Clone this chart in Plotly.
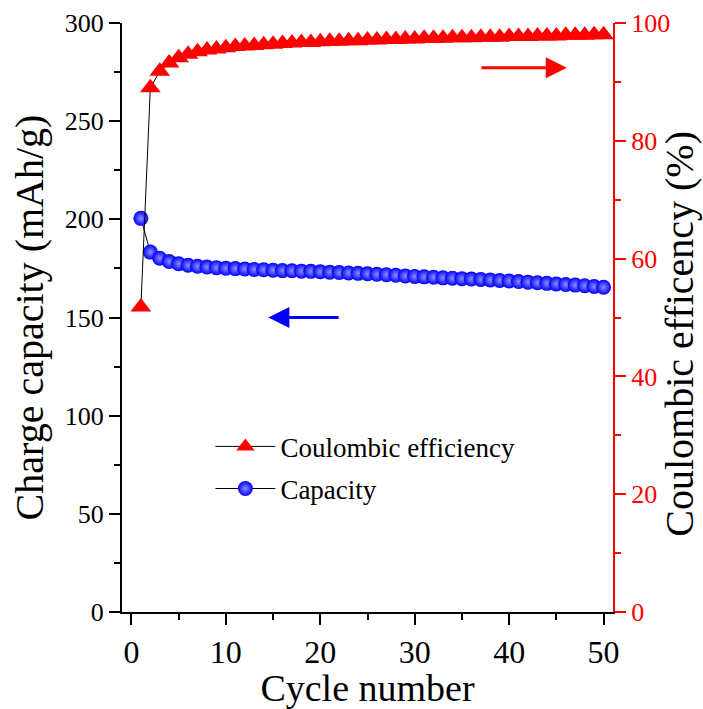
import plotly.graph_objects as go

# Cycle index
cycles = list(range(1, 51))

# Charge capacity per cycle (mAh/g)
capacity = [
    200.5, 183.3, 180.2, 178.5, 177.4, 176.6, 176.1, 175.7, 175.4, 175.1,
    174.9, 174.7, 174.5, 174.3, 174.1, 173.9, 173.8, 173.6, 173.5, 173.3,
    173.1, 172.9, 172.7, 172.5, 172.3, 172.0, 171.8, 171.5, 171.2, 170.9,
    170.7, 170.5, 170.2, 170.0, 169.8, 169.6, 169.4, 169.1, 168.9, 168.6,
    168.3, 168.0, 167.7, 167.4, 167.1, 166.8, 166.5, 166.2, 165.8, 165.4,
]

# Coulombic efficiency per cycle (%)
efficiency = [
    51.8, 89.0, 91.8, 93.2, 94.1, 94.7, 95.1, 95.4, 95.6, 95.8,
    96.0, 96.1, 96.2, 96.3, 96.4, 96.5, 96.6, 96.7, 96.7, 96.8,
    96.9, 96.9, 97.0, 97.0, 97.1, 97.1, 97.2, 97.2, 97.3, 97.3,
    97.4, 97.4, 97.4, 97.5, 97.5, 97.5, 97.6, 97.6, 97.6, 97.7,
    97.7, 97.7, 97.8, 97.8, 97.8, 97.9, 97.9, 97.9, 98.0, 98.0,
]

FONT = "Liberation Serif"
RED = "#ff0000"
BLUE = "#0000ff"

fig = go.Figure()

fig.add_trace(go.Scatter(
    x=cycles, y=capacity, name="Capacity", mode="lines+markers",
    yaxis="y", legendrank=2, legendgroup="cap",
    line=dict(color="black", width=1),
    marker=dict(symbol="circle", size=15, color=BLUE,
                gradient=dict(type="radial", color="#8c8cff"),
                line=dict(width=0)),
))

fig.add_trace(go.Scatter(
    x=cycles, y=efficiency, name="Coulombic efficiency", mode="lines+markers",
    yaxis="y2", legendrank=1, legendgroup="ce",
    line=dict(color="black", width=1),
    marker=dict(symbol="triangle-up", size=18, color=RED, line=dict(width=0)),
))

tick_common = dict(ticks="outside", ticklen=11, tickwidth=2, showline=True,
                   linewidth=2, showgrid=False, zeroline=False, automargin=False)

fig.update_layout(
    width=703, height=709,
    margin=dict(l=122, r=90, t=23, b=97),
    plot_bgcolor="white", paper_bgcolor="white",
    font=dict(family=FONT, color="black"),
    showlegend=True,
    legend=dict(x=0.18, y=0.322, xanchor="left", yanchor="top",
                font=dict(size=27, family=FONT), bgcolor="rgba(0,0,0,0)",
                traceorder="grouped", tracegroupgap=4, itemwidth=60),
    xaxis=dict(
        range=[-1, 51], dtick=10, tick0=0, linecolor="black", tickcolor="black",
        tickfont=dict(size=32, family=FONT),
        minor=dict(ticks="outside", ticklen=6, tickwidth=2, dtick=5, tickcolor="black"),
        title=dict(text="Cycle number", font=dict(size=38, family=FONT), standoff=7),
        **tick_common,
    ),
    xaxis2=dict(
        range=[-1, 51], overlaying="x", side="top", anchor="y",
        ticks="outside", ticklen=4, tickwidth=1, dtick=5, tick0=0,
        showticklabels=False, showline=True, linewidth=2, linecolor="black",
        showgrid=False, zeroline=False, automargin=False,
    ),
    yaxis=dict(
        range=[0, 300], dtick=50, tick0=0, linecolor="black", tickcolor="black",
        tickfont=dict(size=26, family=FONT),
        minor=dict(ticks="outside", ticklen=6, tickwidth=2, dtick=25, tickcolor="black"),
        title=dict(text="Charge capacity (mAh/g)", font=dict(size=40, family=FONT), standoff=9),
        **tick_common,
    ),
    yaxis2=dict(
        range=[0, 100], dtick=20, tick0=0, overlaying="y", side="right", anchor="x",
        linecolor=RED, tickcolor=RED,
        tickfont=dict(size=26, family=FONT, color=RED),
        minor=dict(ticks="outside", ticklen=6, tickwidth=2, dtick=10, tickcolor=RED),
        **tick_common,
    ),
)

# Right-hand axis title, placed as rotated text
fig.add_annotation(
    text="Coulombic efficency (%)", textangle=-90,
    xref="paper", yref="paper", x=1.136, y=0.472,
    xanchor="center", yanchor="middle", showarrow=False,
    font=dict(size=40, family=FONT, color="black"),
)

# Arrows pointing each series to its axis
fig.add_annotation(
    x=46.1, y=92.4, ax=36.9, ay=92.4, xref="x", yref="y2", axref="x", ayref="y2",
    text="", showarrow=True, arrowhead=2, arrowsize=1.4, arrowwidth=3, arrowcolor=RED,
)
fig.add_annotation(
    x=14.5, y=150, ax=22.1, ay=150, xref="x", yref="y", axref="x", ayref="y",
    text="", showarrow=True, arrowhead=2, arrowsize=1.4, arrowwidth=3, arrowcolor=BLUE,
)

fig.write_html("out.html")
